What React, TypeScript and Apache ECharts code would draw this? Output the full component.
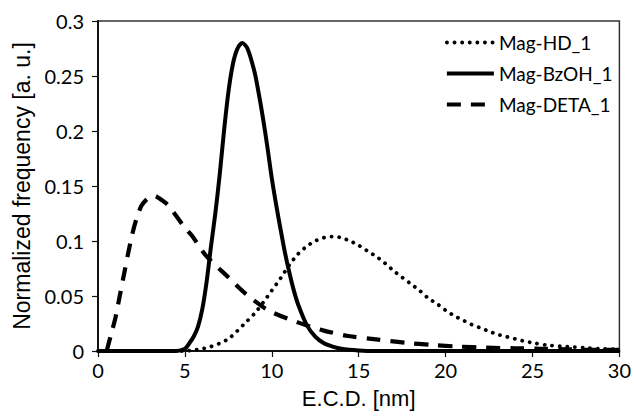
import React, { useEffect, useRef } from "react";
import * as echarts from "echarts";

// ---- Data ----
const seriesNames = ["Mag-HD_1", "Mag-BzOH_1", "Mag-DETA_1"];

// Mag-HD_1 (dotted)
const hdX = [0, 5, 5.5, 6, 6.5, 7, 7.5, 8, 8.5, 9, 9.5, 10, 10.5, 11, 11.5, 12, 12.5, 13, 13.5, 14, 14.5, 15, 15.5, 16, 16.5, 17, 17.5, 18, 18.5, 19, 19.5, 20, 20.5, 21, 21.5, 22, 22.5, 23, 23.5, 24, 24.5, 25, 26, 27, 28, 29, 30];
const hdY = [0, 0, 0.001, 0.002, 0.004, 0.007, 0.011, 0.018, 0.026, 0.034, 0.044, 0.055, 0.066, 0.078, 0.088, 0.095, 0.1, 0.103, 0.104, 0.103, 0.1, 0.096, 0.091, 0.086, 0.08, 0.073, 0.067, 0.061, 0.055, 0.048, 0.043, 0.037, 0.032, 0.028, 0.024, 0.021, 0.018, 0.015, 0.013, 0.011, 0.009, 0.0075, 0.005, 0.004, 0.003, 0.002, 0.0015];

// Mag-BzOH_1 (solid)
const bzX = [0, 4.5, 5, 5.25, 5.5, 5.75, 6, 6.25, 6.5, 6.75, 7, 7.25, 7.5, 7.75, 8, 8.3, 8.6, 9, 9.25, 9.5, 9.75, 10, 10.25, 10.5, 10.75, 11, 11.25, 11.5, 12, 12.5, 13, 13.5, 14, 15, 16, 30];
const bzY = [0, 0, 0.002, 0.007, 0.013, 0.022, 0.038, 0.063, 0.095, 0.125, 0.16, 0.2, 0.235, 0.26, 0.274, 0.28, 0.275, 0.254, 0.234, 0.211, 0.185, 0.157, 0.133, 0.111, 0.09, 0.072, 0.056, 0.043, 0.024, 0.013, 0.007, 0.004, 0.002, 0.0005, 0, 0];

// Mag-DETA_1 (dashed)
const detaX = [0.5, 0.75, 1, 1.25, 1.5, 1.75, 2, 2.25, 2.5, 2.75, 3, 3.25, 3.5, 4, 4.4, 5, 5.4, 6.2, 7.5, 8.5, 9.8, 11.5, 12.9, 14.4, 16, 17.7, 19.2, 20.8, 22.3, 24, 25.5, 27, 28.5, 30];
const detaY = [0, 0.015, 0.03, 0.05, 0.07, 0.09, 0.108, 0.122, 0.132, 0.137, 0.14, 0.141, 0.139, 0.133, 0.125, 0.112, 0.105, 0.087, 0.067, 0.052, 0.037, 0.026, 0.019, 0.0136, 0.0106, 0.0075, 0.0055, 0.004, 0.003, 0.0025, 0.002, 0.0015, 0.001, 0.001];

const xMin = 0;
const xMax = 30;
const xInterval = 5;
const yMin = 0;
const yMax = 0.3;
const yInterval = 0.05;

const xTitle = "E.C.D. [nm]";
const yTitle = "Normalized frequency [a. u.]";

const pairs = (xs: number[], ys: number[]) => xs.map((x, i) => [x, ys[i]]);

export default function App() {
  const ref = useRef<HTMLDivElement>(null);
  useEffect(() => {
    if (!ref.current) return;
    const chart = echarts.init(ref.current, null, { renderer: "svg" });
    const tickFont = "Lato";
    const titleFont = "Liberation Sans";
    chart.setOption({
      animation: false,
      backgroundColor: "#ffffff",
      grid: {
        left: 98,
        right: 12,
        top: 21,
        bottom: 68,
        show: true,
        borderColor: "#333333",
        borderWidth: 1.5,
        backgroundColor: "transparent",
      },
      legend: {
        orient: "vertical",
        left: 440,
        top: 28,
        itemWidth: 47,
        itemHeight: 14,
        itemGap: 12,
        data: seriesNames,
        itemStyle: { color: "transparent", borderWidth: 0, opacity: 0 },
        lineStyle: { width: 3.8 },
        textStyle: { fontFamily: tickFont, fontSize: 19, color: "#000" },
      },
      xAxis: {
        type: "value",
        min: xMin,
        max: xMax,
        interval: xInterval,
        name: xTitle,
        nameLocation: "middle",
        nameGap: 36,
        nameTextStyle: { fontFamily: titleFont, fontSize: 22, color: "#000" },
        axisLine: { show: true, lineStyle: { color: "#111", width: 2 } },
        axisTick: { show: true, inside: false, length: 6, lineStyle: { color: "#111", width: 1.2 } },
        axisLabel: { fontFamily: tickFont, fontSize: 20, color: "#000", margin: 9 },
        splitLine: { show: false },
      },
      yAxis: {
        type: "value",
        min: yMin,
        max: yMax,
        interval: yInterval,
        name: yTitle,
        nameLocation: "middle",
        nameGap: 65,
        nameTextStyle: { fontFamily: titleFont, fontSize: 23, color: "#000" },
        axisLine: { show: true, lineStyle: { color: "#111", width: 2 } },
        axisTick: { show: true, inside: false, length: 6, lineStyle: { color: "#111", width: 1.2 } },
        axisLabel: { fontFamily: tickFont, fontSize: 20, color: "#000", margin: 14 },
        splitLine: { show: false },
      },
      series: [
        {
          name: seriesNames[0],
          type: "line",
          data: pairs(hdX, hdY),
          smooth: 0.3,
          symbol: "none",
          lineStyle: { color: "#000", width: 3.8, type: [0.1, 7.5], cap: "round" },
          itemStyle: { color: "#000" },
        },
        {
          name: seriesNames[1],
          type: "line",
          data: pairs(bzX, bzY),
          smooth: 0.3,
          symbol: "none",
          lineStyle: { color: "#000", width: 4, type: "solid" },
          itemStyle: { color: "#000" },
        },
        {
          name: seriesNames[2],
          type: "line",
          data: pairs(detaX, detaY),
          smooth: 0.3,
          symbol: "none",
          lineStyle: { color: "#000", width: 4.2, type: [14, 10] },
          itemStyle: { color: "#000" },
        },
      ],
    });
    return () => chart.dispose();
  }, []);
  return (
    <div
      ref={ref}
      style={{ position: "absolute", left: 0, top: 0, width: 634, height: 419 }}
    />
  );
}
